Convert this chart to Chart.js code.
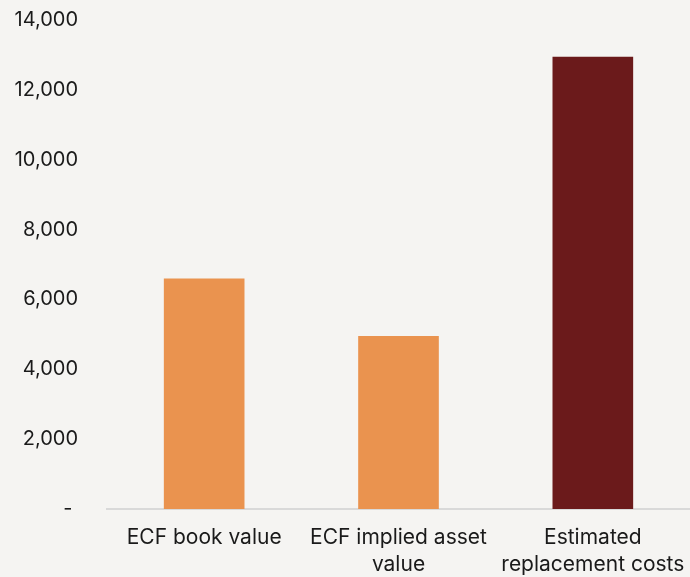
<!DOCTYPE html>
<html>
<head>
<meta charset="utf-8">
<script src="https://cdn.jsdelivr.net/npm/chart.js@4"></script>
<style>
  html, body { margin: 0; padding: 0; background: #f5f4f2; }
  #wrap { width: 690px; height: 577px; position: relative; }
</style>
</head>
<body>
<div id="wrap"><canvas id="myChart"></canvas></div>
<script>
const categories = [
  ["ECF book value"],
  ["ECF implied asset", "value"],
  ["Estimated", "replacement costs"]
];
const values = [6600, 4950, 12950];
const barColors = ["#ea934f", "#ea934f", "#6b1a1b"];
const yTicks = [0, 2000, 4000, 6000, 8000, 10000, 12000, 14000];

const bgPlugin = {
  id: "bg",
  beforeDraw(chart) {
    const ctx = chart.ctx;
    ctx.save();
    ctx.fillStyle = "#f5f4f2";
    ctx.fillRect(0, 0, chart.width, chart.height);
    ctx.restore();
  }
};

let ctx = document.getElementById("myChart").getContext("2d");
let currentChart = new Chart(ctx, {
  type: "bar",
  data: {
    labels: categories,
    datasets: [
      {
        data: values,
        backgroundColor: barColors,
        borderWidth: 0,
        barPercentage: 1,
        categoryPercentage: 0.415
      }
    ]
  },
  options: {
    responsive: true,
    maintainAspectRatio: false,
    animation: false,
    layout: { padding: { top: 20, right: 0, bottom: 0, left: 0 } },
    plugins: {
      legend: { display: false },
      tooltip: { enabled: false }
    },
    scales: {
      x: {
        afterFit(scale) {
          scale.height = 68;
          scale.paddingLeft = 0;
          scale.paddingRight = 0;
        },
        grid: { display: false, drawTicks: false },
        border: { display: true, color: "#d9d9d9", width: 2 },
        ticks: {
          color: "#1a1a1a",
          font: { family: "Inter", size: 21, lineHeight: 1.3 },
          padding: 15,
          maxRotation: 0
        }
      },
      y: {
        min: 0,
        max: 14000,
        afterBuildTicks(scale) {
          scale.ticks = yTicks.map((v) => ({ value: v }));
        },
        afterFit(scale) {
          scale.width = 107;
          scale.paddingTop = 0;
          scale.paddingBottom = 0;
        },
        grid: { display: false, drawTicks: false },
        border: { display: false },
        ticks: {
          color: "#1a1a1a",
          font: { family: "Inter", size: 20 },
          padding: 29,
          callback: function (v) {
            return v === 0 ? "- " : v.toLocaleString("en-US");
          }
        }
      }
    }
  },
  plugins: [bgPlugin]
});
</script>
</body>
</html>
